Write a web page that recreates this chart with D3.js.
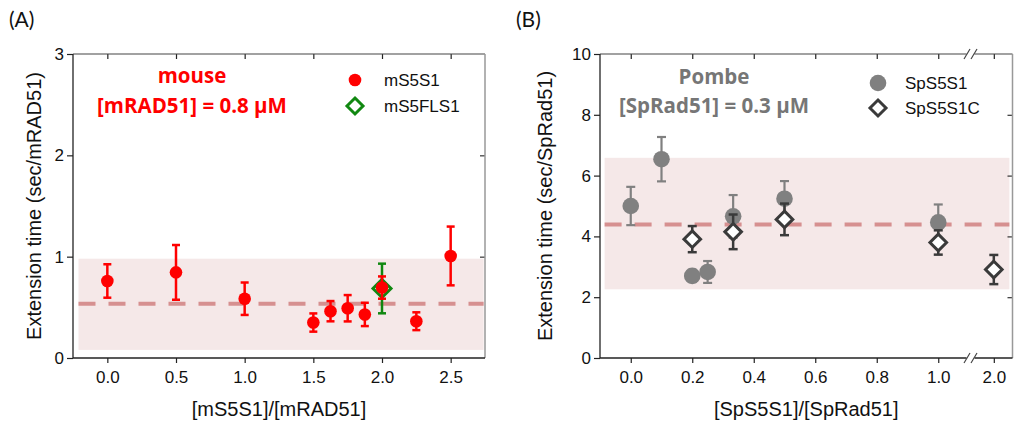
<!DOCTYPE html>
<html><head><meta charset="utf-8">
<script src="https://cdn.jsdelivr.net/npm/d3@7"></script>
<style>
html,body{margin:0;padding:0;background:#fff;}
svg{display:block;}
</style></head>
<body>
<svg id="chart" width="1014" height="425"></svg>
<script>
// ---------- Panel A data ----------
const xA_mS5S1 = [0, 0.5, 1.0, 1.5, 1.625, 1.75, 1.875, 2.0, 2.25, 2.5];
const yA_mS5S1 = [0.76, 0.845, 0.585, 0.35, 0.462, 0.491, 0.43, 0.695, 0.363, 1.007];
const eA_mS5S1 = [0.165, 0.27, 0.16, 0.09, 0.1, 0.13, 0.115, 0.11, 0.088, 0.29];
const xA_mS5FLS1 = [2.0];
const yA_mS5FLS1 = [0.686];
const eA_mS5FLS1 = [0.245];
const bandA_y = [0.08, 0.98];
const bandA_x = [-0.21, 2.74];
const meanA = 0.535;
const xTicksA = [0, 0.5, 1.0, 1.5, 2.0, 2.5];
const yTicksA = [0, 1, 2, 3];

// ---------- Panel B data ----------
const xB_SpS5S1 = [0, 0.1, 0.2, 0.25, 0.333, 0.5, 1.0];
const yB_SpS5S1 = [5.0, 6.54, 2.70, 2.83, 4.66, 5.24, 4.46];
const eB_SpS5S1 = [0.63, 0.73, 0.2, 0.36, 0.7, 0.58, 0.59];
const xB_SpS5S1C = [0.2, 0.333, 0.5, 1.0, 2.0];
const yB_SpS5S1C = [3.91, 4.15, 4.56, 3.80, 2.91];
const eB_SpS5S1C = [0.43, 0.57, 0.52, 0.4, 0.48];
const bandB_y = [2.26, 6.585];
const bandB_x = [-0.085, 2.05];
const meanB = 4.39;
const xTicksB = [0, 0.2, 0.4, 0.6, 0.8, 1.0, 2.0];
const yTicksB = [0, 2, 4, 6, 8, 10];

const svg = d3.select("#chart");
const AX = "Liberation Sans, Arial, sans-serif";
const CAL = "'Open Sans', Lato, sans-serif";

function diamond(r){ return `M0,${-r}L${r},0L0,${r}L${-r},0Z`; }

function panel(o){
  const g = svg.append("g");
  const x = o.x, y = o.y;
  const [x0, x1] = [o.left, o.right];
  const [yb, yt] = [o.bottom, o.top];
  // band
  g.append("rect")
    .attr("x", x(o.bandX[0])).attr("width", x(o.bandX[1]) - x(o.bandX[0]))
    .attr("y", y(o.bandY[1])).attr("height", y(o.bandY[0]) - y(o.bandY[1]))
    .attr("fill", "#f5e8e8");
  // mean dashed line
  g.append("line")
    .attr("x1", x(o.bandX[0])).attr("x2", x(o.bandX[1]))
    .attr("y1", y(o.mean)).attr("y2", y(o.mean))
    .attr("stroke", "#d69090").attr("stroke-width", 4)
    .attr("stroke-dasharray", "17,13");
  // axes
  const left = g.append("g").attr("transform", `translate(${x0},0)`)
    .call(d3.axisLeft(y).tickValues(o.yTicks).tickSize(6).tickPadding(3).tickFormat(d3.format("d")));
  const bottom = g.append("g").attr("transform", `translate(0,${yb})`)
    .call(d3.axisBottom(x).tickValues(o.xTicks).tickSize(5).tickPadding(8).tickFormat(d3.format(".1f")));
  const top = g.append("g").attr("transform", `translate(0,${yt})`)
    .call(d3.axisTop(x).tickValues(o.xTicks).tickSize(-5).tickFormat(""));
  const right = g.append("g").attr("transform", `translate(${x1},0)`)
    .call(d3.axisRight(y).tickValues(o.yTicks.filter(v => v !== o.yTicks[0] && v !== o.yTicks[o.yTicks.length-1])).tickSize(-5).tickFormat(""));
  [left, bottom, top, right].forEach(a => {
    a.select(".domain").remove();
    a.selectAll("line").attr("stroke", "#222").attr("stroke-width", 1.2);
    a.selectAll("text").attr("font-family", AX).attr("font-size", 17).attr("fill", "#111");
  });
  right.selectAll("line").attr("stroke", "#333");
  // frame
  g.append("line").attr("x1", x0).attr("x2", x1).attr("y1", yt).attr("y2", yt).attr("stroke", "#444").attr("stroke-width", 1.2);
  g.append("line").attr("x1", x1).attr("x2", x1).attr("y1", yt).attr("y2", yb).attr("stroke", "#999").attr("stroke-width", 1.5);
  g.append("line").attr("x1", x0).attr("x2", x1).attr("y1", yb).attr("y2", yb).attr("stroke", "#222").attr("stroke-width", 1.3);
  g.append("line").attr("x1", x0).attr("x2", x0).attr("y1", yt).attr("y2", yb).attr("stroke", "#222").attr("stroke-width", 1.3);
  // titles
  g.append("text").attr("x", (x0 + x1) / 2).attr("y", 416).attr("text-anchor", "middle")
    .attr("font-family", AX).attr("font-size", 20).attr("fill", "#111").text(o.xTitle);
  g.append("text").attr("transform", `translate(${o.yTitleX},${(yt + yb) / 2}) rotate(-90)`)
    .attr("text-anchor", "middle").attr("font-family", AX).attr("font-size", 20).attr("fill", "#111").text(o.yTitle);
  g.append("text").attr("x", o.tagX).attr("y", 27).attr("font-family", "Lato, sans-serif").attr("font-size", 21).attr("fill", "#111").text(o.tag);
  return g;
}

function errorBars(g, x, y, xs, ys, es, color, w, cap){
  const eg = g.append("g");
  xs.forEach((xv, i) => {
    const cx = x(xv), ylo = y(ys[i] - es[i]), yhi = y(ys[i] + es[i]);
    eg.append("line").attr("x1", cx).attr("x2", cx).attr("y1", ylo).attr("y2", yhi).attr("stroke", color).attr("stroke-width", w);
    [ylo, yhi].forEach(yy => eg.append("line").attr("x1", cx - cap).attr("x2", cx + cap).attr("y1", yy).attr("y2", yy).attr("stroke", color).attr("stroke-width", w));
  });
}

// ---------- Panel A ----------
const xA = d3.scaleLinear().domain([-0.25, 2.75]).range([73, 485]);
const yA = d3.scaleLinear().domain([0, 3]).range([358, 54]);
const gA = panel({x: xA, y: yA, left: 73, right: 485, bottom: 358, top: 54,
  bandX: bandA_x, bandY: bandA_y, mean: meanA, xTicks: xTicksA, yTicks: yTicksA,
  xTitle: "[mS5S1]/[mRAD51]", yTitle: "Extension time (sec/mRAD51)", yTitleX: 41, tag: "(A)", tagX: 9});
const green = "#118811", red = "#ff0000";
errorBars(gA, xA, yA, xA_mS5FLS1, yA_mS5FLS1, eA_mS5FLS1, green, 2.5, 4);
gA.selectAll(".fls").data(xA_mS5FLS1).join("path")
  .attr("transform", (d, i) => `translate(${xA(d)},${yA(yA_mS5FLS1[i])})`)
  .attr("d", diamond(9)).attr("fill", "#fff").attr("stroke", green).attr("stroke-width", 3);
errorBars(gA, xA, yA, xA_mS5S1, yA_mS5S1, eA_mS5S1, red, 2.5, 4);
gA.selectAll(".s1").data(xA_mS5S1).join("circle")
  .attr("cx", d => xA(d)).attr("cy", (d, i) => yA(yA_mS5S1[i])).attr("r", 6.3).attr("fill", red);
// annotations + legend
gA.append("text").attr("x", 192).attr("y", 83).attr("text-anchor", "middle").attr("font-family", CAL)
  .attr("font-weight", "bold").attr("font-size", 20.5).attr("fill", red).text("mouse");
gA.append("text").attr("x", 192).attr("y", 113).attr("text-anchor", "middle").attr("font-family", CAL)
  .attr("font-weight", "bold").attr("font-size", 20.5).attr("fill", red).text("[mRAD51] = 0.8 μM");
gA.append("circle").attr("cx", 355).attr("cy", 80).attr("r", 6.3).attr("fill", red);
gA.append("path").attr("transform", "translate(355,106)").attr("d", diamond(8)).attr("fill", "#fff").attr("stroke", green).attr("stroke-width", 3);
gA.append("text").attr("x", 384).attr("y", 86).attr("font-family", AX).attr("font-size", 17).attr("fill", "#111").text("mS5S1");
gA.append("text").attr("x", 384).attr("y", 112).attr("font-family", AX).attr("font-size", 17).attr("fill", "#111").text("mS5FLS1");

// ---------- Panel B ----------
const xB = d3.scaleLinear().domain([-0.1, 1.1, 1.93, 2.06]).range([600, 969, 972, 1012.5]);
const yB = d3.scaleLinear().domain([0, 10]).range([358, 54]);
const gB = panel({x: xB, y: yB, left: 600, right: 1012.5, bottom: 358, top: 54,
  bandX: bandB_x, bandY: bandB_y, mean: meanB, xTicks: xTicksB, yTicks: yTicksB,
  xTitle: "[SpS5S1]/[SpRad51]", yTitle: "Extension time (sec/SpRad51)", yTitleX: 552, tag: "(B)", tagX: 516});
// axis breaks
[54, 358].forEach(yy => {
  const bx = (xB(1.1) + xB(1.93)) / 2;
  gB.append("rect").attr("x", bx - 4).attr("y", yy - 2).attr("width", 8).attr("height", 4).attr("fill", "#fff");
  [-3.5, 3.5].forEach(dx => gB.append("line")
    .attr("x1", bx + dx - 3).attr("y1", yy + 5).attr("x2", bx + dx + 3).attr("y2", yy - 5)
    .attr("stroke", "#444").attr("stroke-width", 1.2));
});
const gray = "#808080", dark = "#3a3a3a";
errorBars(gB, xB, yB, xB_SpS5S1, yB_SpS5S1, eB_SpS5S1, gray, 2.2, 4.5);
gB.selectAll(".sp1").data(xB_SpS5S1).join("circle")
  .attr("cx", d => xB(d)).attr("cy", (d, i) => yB(yB_SpS5S1[i])).attr("r", 8.3).attr("fill", gray);
errorBars(gB, xB, yB, xB_SpS5S1C, yB_SpS5S1C, eB_SpS5S1C, dark, 2.5, 4.5);
gB.selectAll(".sp1c").data(xB_SpS5S1C).join("path")
  .attr("transform", (d, i) => `translate(${xB(d)},${yB(yB_SpS5S1C[i])})`)
  .attr("d", diamond(8.3)).attr("fill", "#fff").attr("stroke", dark).attr("stroke-width", 3);
const gtxt = "#767676";
gB.append("text").attr("x", 714).attr("y", 84).attr("text-anchor", "middle").attr("font-family", CAL)
  .attr("font-weight", "bold").attr("font-size", 20.5).attr("fill", gtxt).text("Pombe");
gB.append("text").attr("x", 714).attr("y", 113).attr("text-anchor", "middle").attr("font-family", CAL)
  .attr("font-weight", "bold").attr("font-size", 20.5).attr("fill", gtxt).text("[SpRad51] = 0.3 μM");
gB.append("circle").attr("cx", 878).attr("cy", 83).attr("r", 8.3).attr("fill", gray);
gB.append("path").attr("transform", "translate(878,108)").attr("d", diamond(8)).attr("fill", "#fff").attr("stroke", dark).attr("stroke-width", 3);
gB.append("text").attr("x", 905).attr("y", 89).attr("font-family", AX).attr("font-size", 17).attr("fill", "#111").text("SpS5S1");
gB.append("text").attr("x", 905).attr("y", 114).attr("font-family", AX).attr("font-size", 17).attr("fill", "#111").text("SpS5S1C");
</script>
</body></html>
